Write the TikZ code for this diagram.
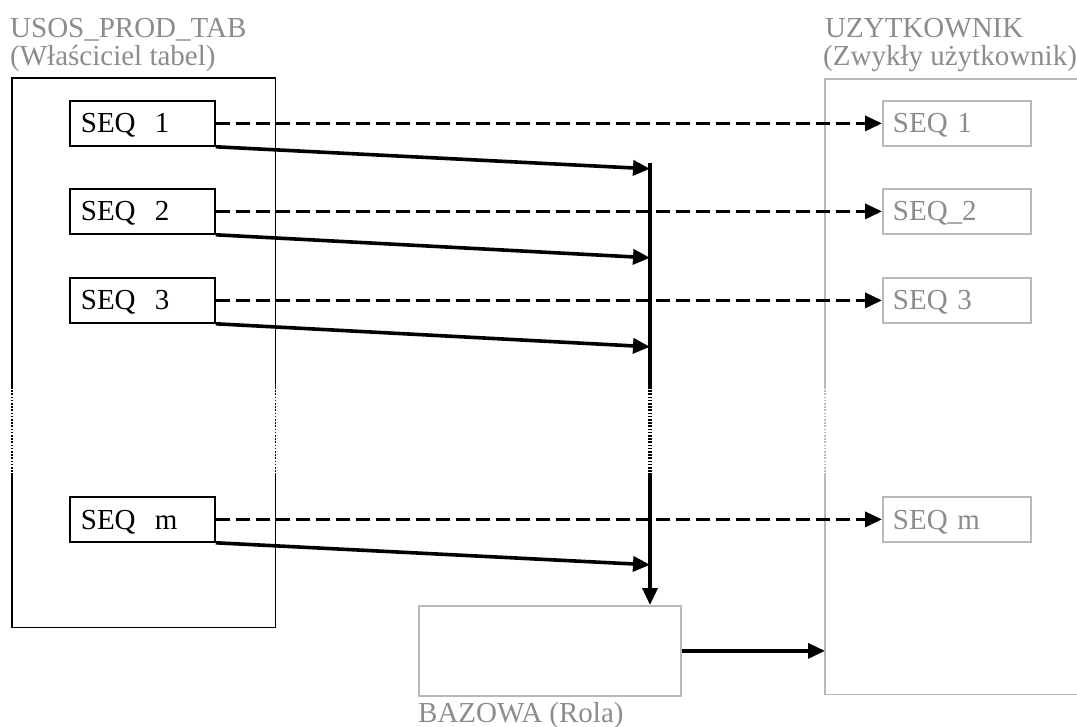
\documentclass[tikz,border=0pt]{standalone}
\usepackage{fontspec}
\setmainfont{Liberation Serif}
\usetikzlibrary{arrows.meta,calc}

\definecolor{roleline}{gray}{0.72}
\definecolor{roletext}{gray}{0.55}

\begin{document}
\begin{tikzpicture}[x=1pt,y=-1pt,>={Triangle[length=17pt,width=15pt]},
  font=\fontsize{29}{30}\selectfont,
  frame/.style={line width=1.8pt},
  userframe/.style={frame,draw=roleline},
  gapline/.style={dash pattern=on 1.6pt off 1.6pt},
  seqbox/.style={draw,frame,anchor=north west,minimum height=45pt,
    text width=123pt,inner xsep=11pt,text depth=0pt,align=left},
  userseq/.style={seqbox,draw=roleline,text=roletext,text width=128pt,inner xsep=10pt},
  grant/.style={->,line width=3.6pt},
  synonym/.style={grant,dash pattern=on 14pt off 6pt}, 
  boxtitle/.style={anchor=base west,inner sep=0pt,text=roletext}]
  \useasboundingbox (0,0) rectangle (1077,727);
  \coordinate (gaptop) at (0,387);
  \coordinate (gapbot) at (0,475);

  % owner of the sequences
  \node[anchor=north west,minimum width=263pt,minimum height=549pt,inner sep=0pt] (owner) at (12,78) {};
  \draw[frame] (owner.west |- gaptop) |- (owner.north east) -- (owner.east |- gaptop);
  \draw[frame,gapline] (owner.west |- gaptop) -- (owner.west |- gapbot)
    (owner.east |- gaptop) -- (owner.east |- gapbot);
  \draw[frame] (owner.west |- gapbot) |- (owner.south east) -- (owner.east |- gapbot);
  \node[boxtitle] (ownername) at (10,38) {USOS\_PROD\_TAB};
  \node[boxtitle] (ownerrole) at (10,66) {(Właściciel tabel)};

  % ordinary user
  \node[anchor=north west,minimum width=300pt,minimum height=615pt,inner sep=0pt] (user) at (825,79) {};
  \draw[userframe] (user.north east) -| (user.west |- gaptop);
  \draw[userframe,gapline] (user.west |- gaptop) -- (user.west |- gapbot);
  \draw[userframe] (user.west |- gapbot) |- (user.south east);
  \node[boxtitle] (username) at (825,38) {UZYTKOWNIK};
  \node[boxtitle] (userrole) at (823,66) {(Zwykły użytkownik)};

  % role
  \node[draw=roleline,frame,anchor=north west,minimum width=262pt,minimum height=90pt] (base) at (418,605) {};
  \node[boxtitle] (basename) at (418,722) {BAZOWA (Rola)};

  \node[seqbox] (s1) at (69,100) {SEQ\ \ 1};
  \node[seqbox] (s2) at (69,188) {SEQ\ \ 2};
  \node[seqbox] (s3) at (69,277) {SEQ\ \ 3};
  \node[seqbox] (sm) at (69,496) {SEQ\ \ m};

  \node[userseq] (u1) at (882,100) {SEQ 1};
  \node[userseq] (u2) at (882,188) {SEQ\_2};
  \node[userseq] (u3) at (882,277) {SEQ 3};
  \node[userseq] (um) at (882,496) {SEQ m};

  \draw[synonym] (s1.east) -- (u1.west);
  \draw[synonym] (s2.east) -- (u2.west);
  \draw[synonym] (s3.east) -- (u3.west);
  \draw[synonym] (sm.east) -- (um.west);

  % grants to the role
  \coordinate (trunk) at (650,163);
  \draw[grant] (s1.south east) -- ($(s1.south east -| trunk)+(0,22)$);
  \draw[grant] (s2.south east) -- ($(s2.south east -| trunk)+(0,23)$);
  \draw[grant] (s3.south east) -- ($(s3.south east -| trunk)+(0,23)$);
  \draw[grant] (sm.south east) -- ($(sm.south east -| trunk)+(0,22)$);
  \draw[line width=3.6pt] (trunk) -- (trunk |- gaptop);
  \draw[line width=3.6pt,gapline] (trunk |- gaptop) -- (trunk |- gapbot);
  \draw[grant] (trunk |- gapbot) -- (trunk |- base.north);
  \draw[grant] (base.east) -- (base.east -| user.west);
\end{tikzpicture}
\end{document}
